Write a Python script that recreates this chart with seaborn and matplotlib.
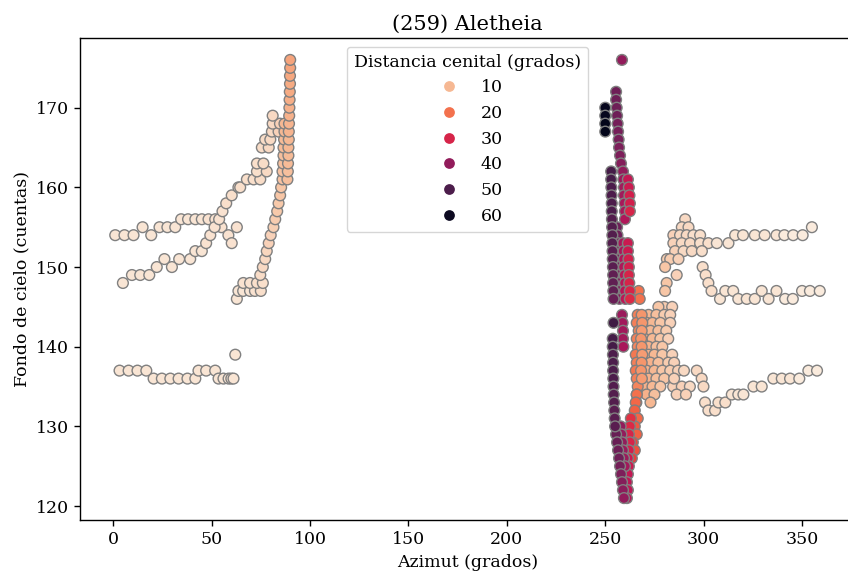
import matplotlib
matplotlib.use("Agg")
import matplotlib.pyplot as plt
import seaborn as sns
import pandas as pd

# --- izquierda: fila superior (154-156)
az_l1 = [1, 5.7, 10.3, 14.9, 19.3, 23.5, 27.5, 31.5, 34.5, 38, 41.7, 45, 48.4, 51.8, 55, 58.5, 60.2, 62.8]
fc_l1 = [154, 154, 154, 155, 154, 155, 155, 155, 156, 156, 156, 156, 156, 156, 155, 154, 153, 155]
zd_l1 = [3, 3, 3, 3, 3, 3, 3, 3, 3, 3, 3, 3, 3.5, 3.5, 3.5, 3.5, 3.5, 3.5]

# --- izquierda: diagonal (148 -> 169)
az_l2 = [4.9, 9.5, 13.7, 18.3, 22.1, 26, 29.8, 33.5, 39.1, 41.7, 45, 47.2, 49.3, 51.5, 53.8, 55.5,
         57.4, 60.2, 63.6, 64.5, 67.9, 71.3, 74.7, 73, 78, 73, 76.3, 75.5, 79, 77.2, 79.8, 80.6, 84,
         81, 84.7, 81]
fc_l2 = [148, 149, 149, 149, 150, 151, 150, 151, 151, 152, 152, 153, 154, 155, 156, 157,
         158, 159, 160, 160, 161, 161, 161, 162, 162, 163, 163, 165, 165, 166, 166, 167, 167,
         168, 168, 169]
zd_l2 = [3, 3, 3, 3, 3, 3, 3, 3, 3, 3, 3, 3.5, 3.5, 3.5, 3.5, 3.5,
         4, 4, 4, 4, 4, 4, 4.5, 4, 5, 4, 4.5, 4.5, 5, 4.5, 5, 5, 6,
         5, 6, 5]

# --- izquierda: fila inferior (136-137)
az_l3 = [3.2, 7.8, 12.3, 16.8, 20.5, 24.7, 29, 33.2, 37.7, 41.7, 43.3, 47.2, 51.8, 53.5, 56, 58.6, 60, 61.1, 62]
fc_l3 = [137, 137, 137, 137, 136, 136, 136, 136, 136, 136, 137, 137, 137, 136, 136, 136, 136, 136, 139]
zd_l3 = [3, 3, 3, 3, 3, 3, 3, 3, 3, 3, 3, 3, 3, 3, 3, 3, 3, 3, 3]

# --- izquierda: rama naranja (146 -> 176)
az_l4 = [62.8, 63.6, 66, 69.5, 72, 75, 66.1, 69.5, 73, 76, 74.7, 76, 77.2, 78, 79, 80, 81.4, 82.3,
         83.3, 84, 84.8, 85.3, 86, 86, 86.3, 86.5, 86.5, 86.8, 87, 87,
         88.5, 88.7, 88.8, 89, 89, 89.2, 89.2, 89.3, 89.4, 89.5, 89.6, 89.7, 89.8, 89.8, 89.9, 89.9]
fc_l4 = [146, 147, 147, 147, 147, 147, 148, 148, 148, 148, 149, 150, 151, 152, 153, 154, 155, 156,
         157, 158, 159, 160, 161, 162, 163, 164, 165, 166, 167, 168,
         161, 162, 163, 164, 165, 166, 167, 168, 169, 170, 171, 172, 173, 174, 175, 176]
zd_l4 = [3, 3, 3, 3, 3.5, 4, 3.5, 3.5, 4, 4, 4.5, 5, 5, 5.5, 6, 6, 6.5, 7,
         7.5, 7.5, 8, 8, 8.5, 8.5, 9, 9, 9.5, 9.5, 10, 10,
         9, 9, 9.5, 9.5, 10, 10, 10.5, 10.5, 11, 11, 11.5, 12, 12, 12.5, 13, 13]

# --- derecha: pista superior (147 -> 156 y fila 153-155)
az_t1 = [290.6, 288.9, 292.3, 284.6, 288, 291.4, 294.8, 298.2, 284.6, 288.9, 293.1, 298.2, 302.4, 306.7,
         312.6, 285.5, 289.8, 294, 299.1, 281.3, 283, 287.2, 280.4, 286.3, 281.2, 280.4,
         316, 320, 326, 331, 337, 341, 345.5, 350.3, 355]
fc_t1 = [156, 155, 155, 154, 154, 154, 154, 154, 153, 153, 153, 153, 153, 153,
         153, 152, 152, 152, 152, 151, 151, 151, 150, 149, 148, 147,
         154, 154, 154, 154, 154, 154, 154, 154, 155]
zd_t1 = [5, 5, 5, 6, 5, 5, 4, 4, 6, 5, 5, 4, 4, 3,
         3, 6, 5, 5, 4, 7, 7, 6, 8, 6, 8, 8,
         3, 3, 3, 3, 3, 2, 2, 2, 2]

# --- derecha: pista media (146-150)
az_t2 = [299.5, 301, 302.4, 304, 308.3, 311, 315, 317.6, 321.9, 326, 329.5, 333, 337, 341.4, 345.3, 350, 354, 359]
fc_t2 = [150, 149, 148, 147, 146, 147, 147, 146, 146, 146, 147, 146, 147, 146, 146, 147, 147, 147]
zd_t2 = [4, 4, 4, 4, 3, 3, 3, 3, 3, 3, 3, 3, 3, 2, 2, 2, 2, 2]

# --- derecha: pista inferior (132-137)
az_t3 = [296.5, 299, 284.5, 288.9, 293, 299.9, 286.3, 291, 300.7, 302.4, 305.8, 307.5, 311, 314.3,
         317.6, 320.2, 325.3, 329.5, 335.4, 339.7, 343.9, 348.6, 353.2, 357.6]
fc_t3 = [137, 136, 135, 135, 135, 135, 134, 134, 133, 132, 132, 133, 133, 134,
         134, 134, 135, 135, 136, 136, 136, 136, 137, 137]
zd_t3 = [5, 5, 6, 6, 5, 5, 6, 6, 4, 4, 4, 4, 4, 3,
         3, 3, 3, 3, 3, 3, 3, 2, 2, 2]

# --- derecha: nube salmon (133-145)
az_s = [280, 284, 277, 272, 276, 280, 283, 271, 274, 278, 283, 270, 273, 277, 281, 270, 274, 278, 282,
        269, 272, 276, 279, 269, 272, 275, 279, 284, 270, 273, 277, 282, 285, 271, 275, 279, 283,
        287, 290, 272, 276, 280, 285, 270, 274, 278, 271, 275, 273]
fc_s = [145, 145, 145, 144, 144, 144, 144, 143, 143, 143, 143, 142, 142, 142, 142, 141, 141, 141, 141,
        140, 140, 140, 140, 139, 139, 139, 139, 139, 138, 138, 138, 138, 138, 137, 137, 137, 137,
        137, 137, 136, 136, 136, 136, 135, 135, 135, 134, 134, 133]
zd_s = [7, 6, 8, 10, 9, 7, 6, 11, 10, 8, 6, 12, 10, 9, 7, 12, 10, 8, 6,
        13, 11, 9, 8, 13, 11, 10, 8, 6, 12, 11, 9, 7, 6, 11, 10, 8, 7,
        6, 5, 11, 9, 8, 6, 11, 10, 8, 11, 9, 10]

# --- derecha: columnas naranja
az_o = [267, 267.5, 266.5, 266, 267, 266, 266.5, 265.5, 266, 265.5, 266, 266.5, 266, 265.8,
        268.5, 268.8, 268.5, 268.2, 268.5, 268.8, 268.5, 268.2, 268.6]
fc_o = [147, 146, 144, 143, 142, 141, 140, 139, 138, 137, 136, 135, 134, 133,
        144, 143, 142, 141, 140, 139, 138, 137, 136]
zd_o = [20, 20, 18, 18, 17, 18, 17, 19, 18, 19, 18, 17, 18, 19,
        15, 15, 14, 15, 15, 14, 15, 15, 14]

# --- derecha: columna roja / carmesi inferior
az_r = [266, 265.5, 265, 266.5, 265, 264.5, 266, 264, 265, 263.5,
        263, 262.5, 262, 262.5, 262, 261.5, 262, 261.5, 261, 261.5, 261]
fc_r = [134, 133, 132, 131, 130, 129, 129, 128, 127, 126,
        131, 130, 129, 128, 127, 126, 125, 124, 123, 122, 121]
zd_r = [20, 21, 22, 21, 23, 24, 22, 25, 24, 26,
        28, 29, 30, 30, 31, 32, 32, 33, 34, 34, 35]

# --- derecha: columna purpura (121-176)
az_p = [258.5, 255.5, 255.5, 255.8, 256, 256.3, 256.5, 256.8, 257, 257.5, 258,
        259, 259.2, 259.5, 259.5, 259.8, 260, 260,
        261.5, 262, 262.3, 262.5, 262.5,
        256, 256.2, 256.3, 256.5, 256.5, 256.6, 256.8, 257, 257, 257.2,
        259, 259.3, 259.5, 259.5, 259.8, 260, 260, 260.2,
        261.5, 261.5, 261.8, 262, 262, 262.2, 262.5, 262.5,
        258.5, 258.8, 259, 259, 259.2,
        257.8, 258.2, 258.6, 259, 259.5, 260,
        255.5, 256, 256.5, 257, 257.5, 258, 258.5, 259, 259.5]
fc_p = [176, 172, 171, 170, 169, 168, 167, 166, 165, 164, 163,
        162, 161, 160, 159, 158, 157, 156,
        161, 160, 159, 158, 157,
        155, 154, 153, 152, 151, 150, 149, 148, 147, 146,
        153, 152, 151, 150, 149, 148, 147, 146,
        153, 152, 151, 150, 149, 148, 147, 146,
        144, 143, 142, 141, 140,
        130, 129, 128, 127, 126, 125,
        129, 128, 127, 126, 125, 124, 123, 122, 121]
zd_p = [40, 45, 45, 45, 45, 44, 44, 44, 43, 43, 42,
        40, 39, 38, 38, 37, 37, 36,
        33, 32, 31, 31, 30,
        45, 45, 44, 44, 44, 44, 43, 43, 43, 43,
        37, 37, 36, 36, 35, 35, 35, 34,
        32, 32, 31, 31, 30, 30, 30, 29,
        39, 38, 38, 38, 37,
        40, 40, 40, 39, 39, 38,
        46, 46, 45, 45, 44, 43, 42, 41, 40]

# --- derecha: columna oscura y puntos negros
az_d = [253, 253, 253.1, 253.2, 253.3, 253.3, 253.4, 253.5, 253.6, 253.6, 253.7, 253.8, 253.9, 254,
        254, 254.1, 254.2, 254.2,
        253.8, 253.8, 253.9, 254, 254, 254.1, 254.2, 254.3, 254.5, 254.6, 254.8, 255,
        250, 250, 250, 250]
fc_d = [162, 161, 160, 159, 158, 157, 156, 155, 154, 153, 152, 151, 150, 149,
        148, 147, 146, 143,
        141, 140, 139, 138, 137, 136, 135, 134, 133, 132, 131, 130,
        170, 169, 168, 167]
zd_d = [51, 51, 50, 50, 50, 50, 49, 49, 49, 49, 48, 48, 48, 47,
        47, 47, 46, 52,
        51, 51, 50, 50, 50, 50, 49, 49, 49, 48, 48, 48,
        61, 61, 62, 62]

az = az_l1 + az_l2 + az_l3 + az_l4 + az_t1 + az_t2 + az_t3 + az_s + az_o + az_r + az_p + az_d
fc = fc_l1 + fc_l2 + fc_l3 + fc_l4 + fc_t1 + fc_t2 + fc_t3 + fc_s + fc_o + fc_r + fc_p + fc_d
zd = zd_l1 + zd_l2 + zd_l3 + zd_l4 + zd_t1 + zd_t2 + zd_t3 + zd_s + zd_o + zd_r + zd_p + zd_d

df = pd.DataFrame({"Azimut": az, "Fondo": fc, "Cenital": zd})

plt.rcParams["font.family"] = "DejaVu Serif"
plt.rcParams["axes.linewidth"] = 1.0

fig = plt.figure(figsize=(8.48, 5.74), dpi=100)
ax = fig.add_axes([80 / 848, 54 / 574, 775 / 848, 482 / 574])

sns.scatterplot(data=df, x="Azimut", y="Fondo", hue="Cenital", palette="rocket_r",
                s=60, edgecolor="gray", linewidth=1.0, ax=ax)

ax.set_title("(259) Aletheia", fontsize=15)
ax.set_xlabel("Azimut (grados)", fontsize=12.5)
ax.set_ylabel("Fondo de cielo (cuentas)", fontsize=12.5)
ax.set_xticks([0, 50, 100, 150, 200, 250, 300, 350])
ax.set_yticks([120, 130, 140, 150, 160, 170])
ax.tick_params(labelsize=12.5, length=4.4, width=1.0)

sns.move_legend(ax, "upper center", title="Distancia cenital (grados)",
                fontsize=12.5, title_fontsize=12.5)
for h in ax.get_legend().legend_handles:
    h.set_markeredgewidth(0)

fig.savefig("out.png", dpi=100)
